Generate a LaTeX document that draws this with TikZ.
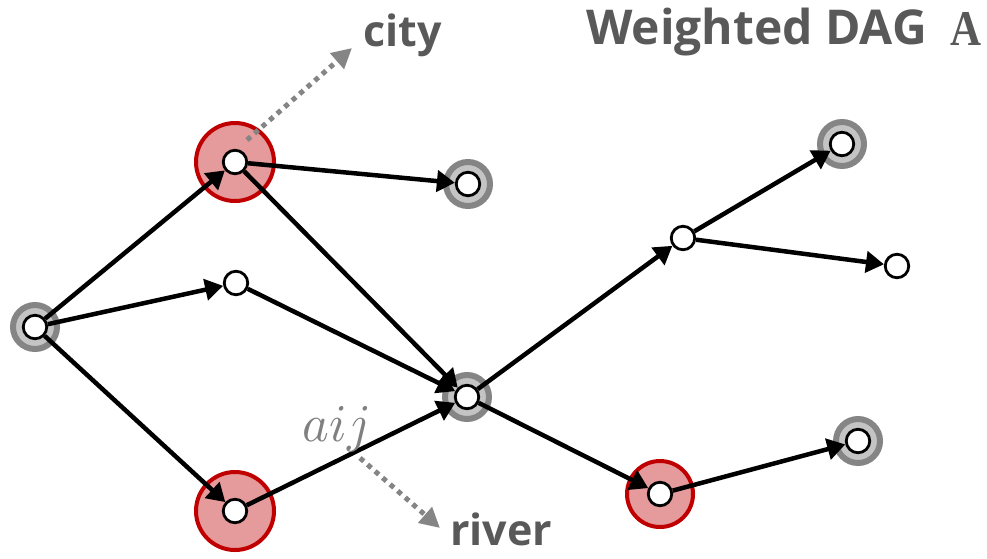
\documentclass[tikz,border=0pt]{standalone}
\usepackage{fontspec}
\usepackage{graphicx}
\setsansfont{Open Sans}
\newfontfamily\capserif{Liberation Serif}
\usetikzlibrary{arrows.meta}
\definecolor{ringred}{HTML}{C00000}
\definecolor{fillred}{HTML}{E59A9B}
\definecolor{ringgray}{HTML}{858585}
\definecolor{fillgray}{HTML}{C4C4C4}
\definecolor{textgray}{HTML}{595959}
\tikzset{
  vert/.style={circle, draw=black, fill=white, line width=2.8pt, minimum size=23.5pt, inner sep=0pt},
  grayring/.style={circle, draw=ringgray, fill=fillgray, line width=6pt, minimum size=44pt, inner sep=0pt},
  redring/.style={circle, draw=ringred, fill=fillred, line width=4pt, minimum size=#1, inner sep=0pt},
  edge/.style={line width=4.5pt, -{Triangle[length=18pt,width=21pt]}},
  pointer/.style={draw=ringgray, line width=5pt, dash pattern=on 5pt off 5pt, -{Triangle[length=20pt,width=20pt,fill=ringgray]}},
  tag/.style={font=\sffamily\bfseries\fontsize{43}{43}\selectfont, text=textgray, inner sep=0pt},
}
\begin{document}
\begin{tikzpicture}[x=1pt,y=-1pt]
\useasboundingbox (0,0) rectangle (987,558);

% highlighted rings behind the vertices
\node[grayring] at (35,327) {};
\node[grayring] at (468,184) {};
\node[grayring] at (467,397) {};
\node[grayring] at (842,144) {};
\node[grayring] at (858,441) {};
\node[redring=78pt] at (235,162) {};
\node[redring=78pt] at (235,511) {};
\node[redring=66pt] at (660,494) {};

% vertices
\node[vert] (s) at (35,327) {};
\node[vert] (a) at (235,162) {};
\node[vert] (b) at (236,283) {};
\node[vert] (c) at (235,511) {};
\node[vert] (n) at (468,184) {};
\node[vert] (d) at (467,397) {};
\node[vert] (e) at (683,238) {};
\node[vert] (f) at (842,144) {};
\node[vert] (g) at (897,266) {};
\node[vert] (h) at (660,494) {};
\node[vert] (i) at (858,441) {};

% weighted edges
\draw[edge] (s) -- (a);
\draw[edge] (s) -- (b);
\draw[edge] (s) -- (c);
\draw[edge] (a) -- (n);
\draw[edge] (a) -- (d);
\draw[edge] (b) -- (d);
\draw[edge] (c) -- (d);
\draw[edge] (d) -- (e);
\draw[edge] (e) -- (f);
\draw[edge] (e) -- (g);
\draw[edge] (d) -- (h);
\draw[edge] (h) -- (i);

% semantic pointers
\coordinate (cityfrom) at (247,140);
\coordinate (cityto) at (352,48);
\coordinate (riverfrom) at (360,458);
\coordinate (riverto) at (440,528);
\draw[pointer] (cityfrom) -- (cityto);
\draw[pointer] (riverfrom) -- (riverto);

% labels
\node[tag, anchor=base west] (city) at (363,46) {city};
\node[tag, anchor=base west] (river) at (450,545) {river};
\node[text=gray, inner sep=0pt] (w) at (337,429) {\resizebox{68pt}{35pt}{$aij$}};
\node[tag, font=\sffamily\bfseries\fontsize{48}{48}\selectfont, anchor=base west] (title) at (586,44) {Weighted DAG};
\node[text=textgray, anchor=base west, inner sep=0pt] (mat) at (950,45) {\resizebox{31pt}{33pt}{\capserif\bfseries A}};
\end{tikzpicture}
\end{document}
